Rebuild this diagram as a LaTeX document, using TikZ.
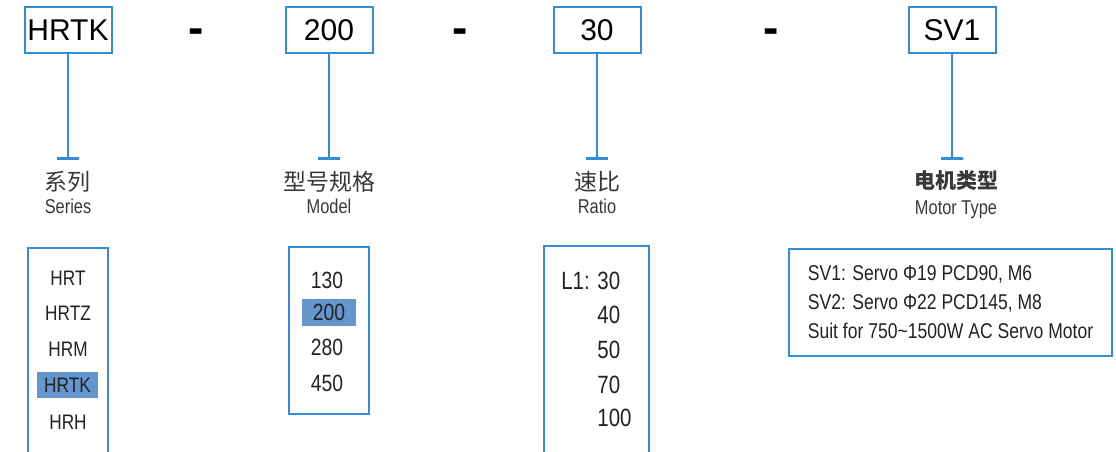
\documentclass[tikz,border=0pt]{standalone}
\usepackage{fontspec}
\setmainfont{Liberation Sans}
\newfontfamily\narrowfont[FakeStretch=0.82]{Liberation Sans}
\newfontfamily\cjkfont{Noto Sans CJK SC}
\usepackage{xcolor}
\usetikzlibrary{positioning,arrows.meta}
\definecolor{codeblue}{RGB}{52,140,220}
\definecolor{selblue}{RGB}{100,149,204}
\definecolor{inktext}{RGB}{34,34,34}

\begin{document}
\begin{tikzpicture}[x=0.5pt, y=-0.5pt,
      codebox/.style={draw=codeblue, line width=1pt, minimum width=43.5pt,
        minimum height=23pt, inner sep=0pt, font=\fontsize{15}{15}\selectfont},
      joiner/.style={font=\fontsize{23}{23}\selectfont\bfseries, inner sep=0pt, anchor=base},
      lead/.style={draw=codeblue, line width=1pt, -{Bar[width=11pt, line width=1.5pt]}},
      cnlabel/.style={font=\cjkfont\fontsize{11.5}{11.5}\selectfont, text=inktext!90, inner sep=0pt},
      enlabel/.style={font=\narrowfont\fontsize{10}{10}\selectfont, text=inktext!90,
        inner sep=0pt, anchor=base},
      listbox/.style={draw=codeblue, line width=1pt, anchor=north, inner sep=0pt},
      entry/.style={font=\narrowfont\fontsize{10.5}{10.5}\selectfont, text=inktext, inner sep=0pt},
      picked/.style={fill=selblue, inner sep=0pt}]
    \useasboundingbox (0,0) rectangle (1116,451);
    % code boxes
    \node[codebox] (series) at (68,30) {HRTK};
    \node[joiner] (d1) at (196,43) {-};
    \node[codebox] (model) at (329,30) {200};
    \node[joiner] (d2) at (460,43) {-};
    \node[codebox] (ratio) at (597,30) {30};
    \node[joiner] (d3) at (771,43) {-};
    \node[codebox] (motor) at (952,30) {SV1};
    % captions
    \node[cnlabel] (cn1) at (68,182) {系列};
    \node[enlabel] (en1) at (68,213.5) {Series};
    \node[cnlabel] (cn2) at (329,182) {型号规格};
    \node[enlabel] (en2) at (329,213.5) {Model};
    \node[cnlabel] (cn3) at (597,182) {速比};
    \node[enlabel] (en3) at (597,213.5) {Ratio};
    \node[cnlabel, font=\cjkfont\bfseries\fontsize{10.5}{10.5}\selectfont] (cn4) at (956,181) {电机类型};
    \node[enlabel] (en4) at (956,214) {Motor Type};
    \coordinate (t1) at (68,160);
    \coordinate (t2) at (329,160);
    \coordinate (t3) at (597,160);
    \coordinate (t4) at (952,160);
    \draw[lead] (series) -- (t1);
    \draw[lead] (model) -- (t2);
    \draw[lead] (ratio) -- (t3);
    \draw[lead] (motor) -- (t4);
    % series list
    \node[listbox, minimum width=40pt, minimum height=120pt] (serieslist) at (68,247) {};
    \node[entry] (s1) at (68,278) {HRT};
    \node[entry] (s2) at (68,313) {HRTZ};
    \node[entry] (s3) at (68,349) {HRM};
    \node[entry, picked, minimum width=30.5pt, minimum height=13pt] (s4) at (67.5,385) {HRTK};
    \node[entry] (s5) at (68,422) {HRH};
    % model list
    \node[listbox, minimum width=40pt, minimum height=83.5pt] (modellist) at (329,246) {};
    \node[entry, font=\narrowfont\fontsize{11.75}{11.75}\selectfont] (m1) at (327,280) {130};
    \node[entry, picked, font=\narrowfont\fontsize{11.75}{11.75}\selectfont,
      minimum width=27pt, minimum height=13.5pt] (m2) at (329,312.5) {200};
    \node[entry, font=\narrowfont\fontsize{11.75}{11.75}\selectfont] (m3) at (327,347) {280};
    \node[entry, font=\narrowfont\fontsize{11.75}{11.75}\selectfont] (m4) at (327,383) {450};
    % ratio list
    \node[listbox, minimum width=52.5pt, minimum height=120pt] (ratiolist) at (596.5,245) {};
    \node[entry, anchor=west, font=\narrowfont\fontsize{12.5}{12.5}\selectfont] (r1) at (597,281) {\llap{L1: }30};
    \node[entry, anchor=west, font=\narrowfont\fontsize{12.5}{12.5}\selectfont] (r2) at (597,315) {40};
    \node[entry, anchor=west, font=\narrowfont\fontsize{12.5}{12.5}\selectfont] (r3) at (597,350) {50};
    \node[entry, anchor=west, font=\narrowfont\fontsize{12.5}{12.5}\selectfont] (r4) at (597,385) {70};
    \node[entry, anchor=west, font=\narrowfont\fontsize{12.5}{12.5}\selectfont] (r5) at (597,418) {100};
    % motor list
    \node[draw=codeblue, line width=1pt, minimum width=161.5pt, minimum height=53.5pt,
      align=left, text=inktext, font=\narrowfont\fontsize{10.7}{14.5}\selectfont] (motorlist) at (950.5,302)
      {SV1: Servo Φ19 PCD90, M6\\SV2: Servo Φ22 PCD145, M8\\Suit for 750\textasciitilde1500W AC Servo Motor};
  \end{tikzpicture}
\end{document}
